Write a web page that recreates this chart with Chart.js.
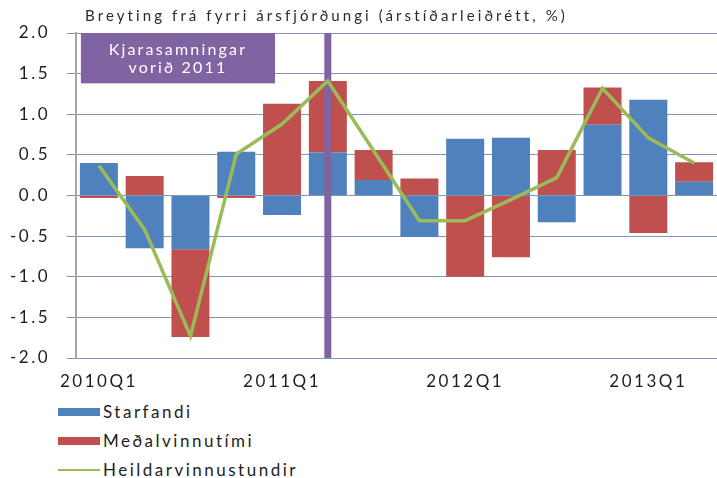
<!DOCTYPE html>
<html>
<head>
<meta charset="utf-8">
<script src="https://cdn.jsdelivr.net/npm/chart.js@4"></script>
<style>
  body { margin: 0; background: #fff; font-family: Lato, sans-serif; }
  #wrap { position: relative; width: 717px; height: 478px; overflow: hidden; }
  #title { position: absolute; left: 85px; top: 6px; font-size: 15px; letter-spacing: 3.1px; color: #2a2a2a; white-space: nowrap; }
  #chartBox { position: absolute; left: 0; top: 0; width: 717px; height: 395px; }
  #legend { position: absolute; left: 58px; top: 397px; }
  .item { height: 29px; display: flex; align-items: center; font-size: 17px; letter-spacing: 2.5px; color: #1e1e1e; }
  .swatch { display: inline-block; width: 42px; margin-right: 3px; }
</style>
</head>
<body>
<div id="wrap">
  <div id="chartBox"><canvas id="chart"></canvas></div>
  <div id="title">Breyting frá fyrri ársfjórðungi (árstíðarleiðrétt, %)</div>
  <div id="legend"></div>
</div>
<script>
const quarters = ['2010Q1', '2010Q2', '2010Q3', '2010Q4', '2011Q1', '2011Q2', '2011Q3', '2011Q4',
                  '2012Q1', '2012Q2', '2012Q3', '2012Q4', '2013Q1', '2013Q2'];
const starfandi = [0.40, -0.65, -0.66, 0.54, -0.24, 0.53, 0.19, -0.51, 0.70, 0.71, -0.33, 0.87, 1.18, 0.17];
const medalvinnutimi = [-0.03, 0.24, -1.08, -0.03, 1.13, 0.88, 0.37, 0.21, -1.00, -0.76, 0.56, 0.46, -0.46, 0.24];
const heildarvinnustundir = [0.37, -0.42, -1.73, 0.51, 0.88, 1.41, 0.55, -0.31, -0.31, -0.05, 0.22, 1.32, 0.71, 0.40];
const yMin = -2, yMax = 2, yStep = 0.5;

const kjaraIndex = 5; // 2011Q2
const kjaraText = ['Kjarasamningar', 'vorið 2011'];

// Excel-lík bil milli stafa
const spacingPlugin = {
    id: 'spacing',
    beforeLayout(chart) { chart.ctx.letterSpacing = '2.5px'; },
    beforeDraw(chart) { chart.ctx.letterSpacing = '2.5px'; }
};

// fjólublá lína og kassi, teiknað á undan línunni
const kjaraPlugin = {
    id: 'kjara',
    beforeDatasetDraw(chart, args) {
        if (args.meta.type !== 'line') return;
        const { ctx, scales: { x, y } } = chart;
        ctx.save();
        const px = x.getPixelForValue(kjaraIndex);
        ctx.fillStyle = '#8064a2';
        ctx.fillRect(px - 3.5, y.getPixelForValue(yMax), 7, y.getPixelForValue(yMin) - y.getPixelForValue(yMax));

        const left = x.getPixelForValue(0) - 18;
        const right = x.getPixelForValue(4) - 7;
        const top = y.getPixelForValue(yMax);
        const bottom = y.getPixelForValue(1.38);
        ctx.fillRect(left, top, right - left, bottom - top);

        ctx.fillStyle = '#ffffff';
        ctx.font = '16px Lato';
        ctx.letterSpacing = '2.2px';
        ctx.textAlign = 'center';
        ctx.textBaseline = 'middle';
        const cx = (left + right) / 2;
        ctx.fillText(kjaraText[0], cx, top + 17);
        ctx.fillText(kjaraText[1], cx, top + 35);
        ctx.restore();
    }
};

const chart = new Chart(document.getElementById('chart'), {
    type: 'bar',
    data: {
        labels: quarters,
        datasets: [
            {
                label: 'Starfandi',
                data: starfandi,
                backgroundColor: '#4f81bd',
                stack: 'bars',
                order: 1,
                barPercentage: 0.83,
                categoryPercentage: 1
            },
            {
                label: 'Meðalvinnutími',
                data: medalvinnutimi,
                backgroundColor: '#c0504d',
                stack: 'bars',
                order: 1,
                barPercentage: 0.83,
                categoryPercentage: 1
            },
            {
                type: 'line',
                label: 'Heildarvinnustundir',
                data: heildarvinnustundir,
                borderColor: '#9bbb59',
                backgroundColor: '#9bbb59',
                borderWidth: 3.5,
                pointRadius: 0,
                tension: 0,
                stack: 'line',
                order: 0
            }
        ]
    },
    options: {
        responsive: true,
        maintainAspectRatio: false,
        animation: false,
        layout: { padding: { top: 33, right: 0, bottom: 0, left: 0 } },
        plugins: {
            legend: { display: false },
            tooltip: { enabled: false }
        },
        scales: {
            x: {
                stacked: true,
                afterFit: scale => { scale.height = 37; },
                grid: { display: false },
                border: { display: false },
                ticks: {
                    autoSkip: false,
                    maxRotation: 0,
                    padding: 5,
                    color: '#1e1e1e',
                    font: { family: 'Lato', size: 17 },
                    callback: (v, i) => (i % 4 === 0 ? quarters[i] : '')
                }
            },
            y: {
                stacked: true,
                min: yMin,
                max: yMax,
                afterFit: scale => { scale.width = 76; },
                grid: { color: '#7b97ba', lineWidth: 1, tickLength: 9 },
                border: { display: true, color: '#a6a6a6', width: 2 },
                ticks: {
                    stepSize: yStep,
                    padding: 17,
                    color: '#1e1e1e',
                    font: { family: 'Lato', size: 17 },
                    callback: v => v.toFixed(1)
                }
            }
        }
    },
    plugins: [spacingPlugin, kjaraPlugin]
});

// legend undir myndinni, ein lína á hverja röð
const legendEl = document.getElementById('legend');
chart.data.datasets.forEach(ds => {
    const row = document.createElement('div');
    row.className = 'item';
    const sw = document.createElement('span');
    sw.className = 'swatch';
    sw.style.background = ds.type === 'line' ? ds.borderColor : ds.backgroundColor;
    sw.style.height = ds.type === 'line' ? '2px' : '8px';
    row.appendChild(sw);
    row.appendChild(document.createTextNode(ds.label));
    legendEl.appendChild(row);
});
</script>
</body>
</html>
